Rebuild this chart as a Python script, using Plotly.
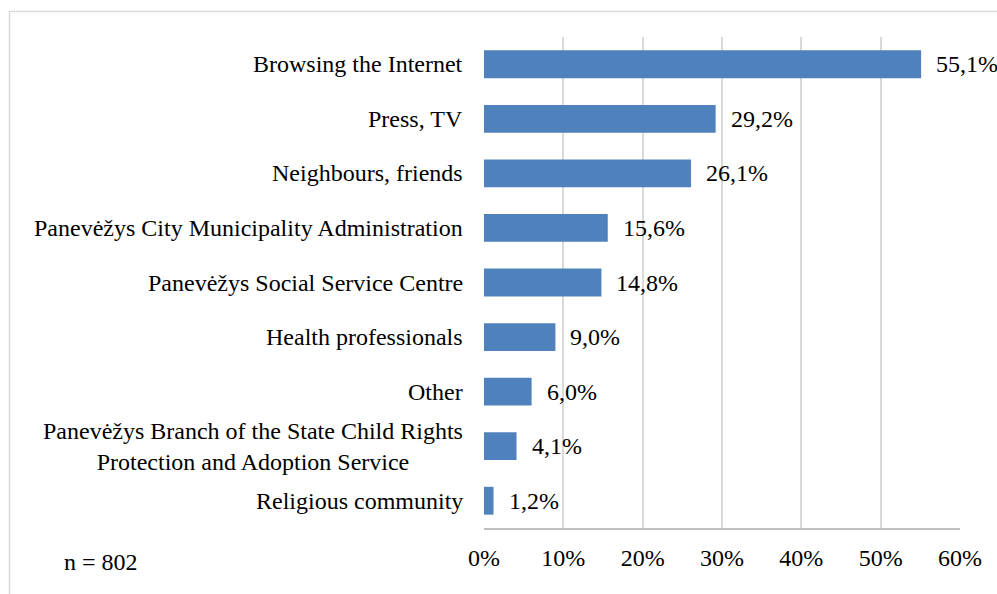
import plotly.graph_objects as go

# Sources of information (survey, share of respondents)
categories = [
    "Browsing the Internet",
    "Press, TV",
    "Neighbours, friends",
    "Panevėžys City Municipality Administration",
    "Panevėžys Social Service Centre",
    "Health professionals",
    "Other",
    "Panevėžys Branch of the State Child Rights<br>Protection and Adoption Service",
    "Religious community",
]
values = [55.1, 29.2, 26.1, 15.6, 14.8, 9.0, 6.0, 4.1, 1.2]
x_ticks = [0, 10, 20, 30, 40, 50, 60]
x_tick_labels = [f"{t}%" for t in x_ticks]
sample_note = "n = 802"

FONT = "Times New Roman"
FS = 24
BAR = "#4F81BD"
GRID = "#D9D9D9"

W, H = 997, 594
L, R, T, B = 484, 37, 37, 66
pw, ph = W - L - R, H - T - B

fig = go.Figure(
    go.Bar(
        x=values,
        y=categories,
        orientation="h",
        width=0.51,
        marker=dict(color=BAR, line=dict(width=0)),
        hoverinfo="skip",
    )
)

# value labels with decimal comma
for c, v in zip(categories, values):
    fig.add_annotation(
        x=v, y=c, xref="x", yref="y",
        text=f"{v:.1f}".replace(".", ",") + "%",
        showarrow=False, xanchor="left", xshift=13,
        font=dict(family=FONT, size=FS, color="#000000"),
    )

# category labels, right-aligned to the axis, lines centred
for c in categories:
    fig.add_annotation(
        x=0, y=c, xref="paper", yref="y",
        text=c, showarrow=False, xanchor="right", xshift=-19,
        align="center",
        font=dict(family=FONT, size=FS, color="#000000"),
    )

fig.add_annotation(
    x=(62 - L) / pw, y=(H - B - 562) / ph, xref="paper", yref="paper",
    text=sample_note, showarrow=False, xanchor="left", yanchor="middle",
    font=dict(family=FONT, size=FS, color="#000000"),
)

# chart frame
fig.add_shape(
    type="rect", xref="paper", yref="paper",
    x0=(9.5 - L) / pw, x1=2.0, y0=-1.0, y1=1 + (T - 11.5) / ph,
    line=dict(color=GRID, width=1.5), fillcolor="rgba(0,0,0,0)", layer="below",
)

fig.update_layout(
    width=W, height=H,
    margin=dict(l=L, r=R, t=T, b=B, pad=0),
    paper_bgcolor="white", plot_bgcolor="white",
    showlegend=False,
    font=dict(family=FONT, size=FS, color="#000000"),
    xaxis=dict(
        range=[0, 60], tickvals=x_ticks, ticktext=x_tick_labels,
        showgrid=True, gridcolor=GRID, gridwidth=1.5,
        zeroline=False, showline=True, linecolor="#BFBFBF", linewidth=1.5,
        ticks="", ticklabelstandoff=7,
        tickfont=dict(family=FONT, size=FS, color="#000000"),
        fixedrange=True,
    ),
    yaxis=dict(
        categoryorder="array", categoryarray=categories[::-1],
        showticklabels=False, ticks="", showgrid=False, zeroline=False,
        showline=False, fixedrange=True,
    ),
)

fig.write_html("out.html")
